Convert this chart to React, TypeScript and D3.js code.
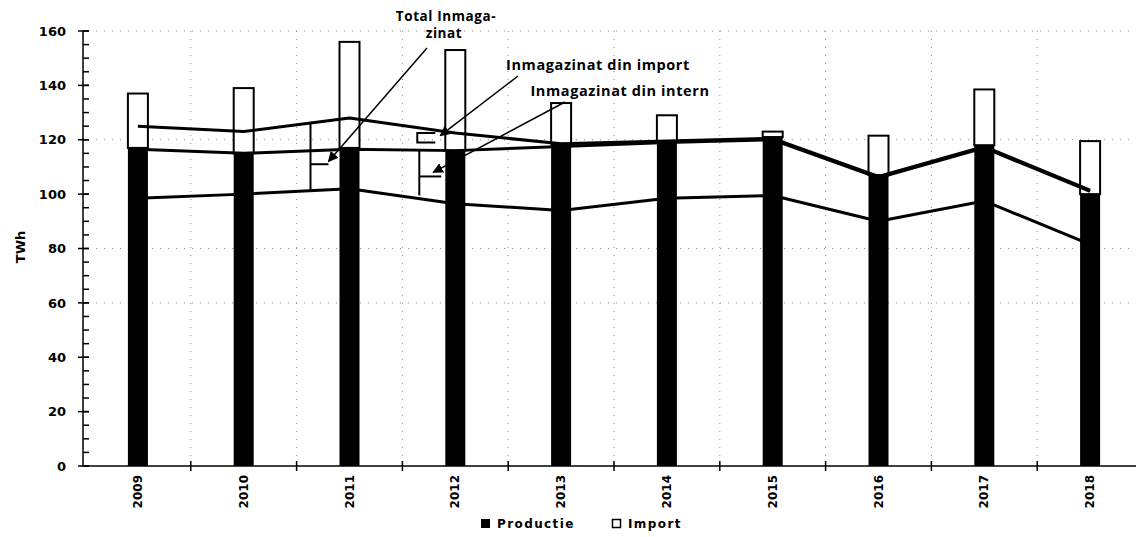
import { useEffect, useRef } from "react";
import * as d3 from "d3";

// categories and values (TWh)
const years = ["2009", "2010", "2011", "2012", "2013", "2014", "2015", "2016", "2017", "2018"];
const productie = [117, 115, 117, 116, 118.5, 119.5, 121, 107, 118, 100];
const totalBar = [137, 139, 156, 153, 133.5, 129, 123, 121.5, 138.5, 119.5];
// three annotated lines
const lineTotal = [125, 123, 128, 122.5, 118.5, 119.5, 120.5, 106.5, 117.5, 101.5];
const lineIntern = [116.5, 115, 116.5, 116, 117.5, 119, 120, 106, 117, 101];
const lineBase = [98.5, 100, 102, 96.5, 94, 98.5, 99.5, 90, 97.5, 81.5];
const yTicks = [0, 20, 40, 60, 80, 100, 120, 140, 160];
const gridValues = [160, 120, 80, 60];

const W = 1136;
const H = 537;

const App = () => {
  const ref = useRef<SVGSVGElement>(null);

  useEffect(() => {
    const svg = d3.select(ref.current);
    svg.selectAll("*").remove();

    const x = d3.scaleBand().domain(years).range([85, 1143]).padding(0);
    const y = d3.scaleLinear().domain([0, 160]).range([466, 31]);
    const cx = (yr: string) => (x(yr) as number) + x.bandwidth() / 2;
    const barW = 20;

    svg
      .append("defs")
      .append("marker")
      .attr("id", "arrow")
      .attr("viewBox", "0 0 10 10")
      .attr("refX", 9)
      .attr("refY", 5)
      .attr("markerWidth", 7)
      .attr("markerHeight", 7)
      .attr("orient", "auto")
      .append("path")
      .attr("d", "M0,0 L10,5 L0,10 z")
      .attr("fill", "#000");

    // dotted gridlines (faint, like the scan)
    const grid = svg
      .append("g")
      .attr("stroke", "#888")
      .attr("stroke-width", 1)
      .attr("stroke-dasharray", "1 7");
    grid
      .selectAll("line.h")
      .data(gridValues)
      .join("line")
      .attr("x1", 88)
      .attr("x2", W)
      .attr("y1", (d) => y(d))
      .attr("y2", (d) => y(d));
    grid
      .selectAll("line.v")
      .data(years.slice(1))
      .join("line")
      .attr("x1", (d) => x(d) as number)
      .attr("x2", (d) => x(d) as number)
      .attr("y1", y(160))
      .attr("y2", y(0));

    // import part (outlined) then production (black)
    svg
      .append("g")
      .selectAll("rect")
      .data(years)
      .join("rect")
      .attr("x", (d) => cx(d) - barW / 2)
      .attr("y", (_, i) => y(totalBar[i]))
      .attr("width", barW)
      .attr("height", (_, i) => y(productie[i]) - y(totalBar[i]))
      .attr("fill", "#fff")
      .attr("stroke", "#000")
      .attr("stroke-width", 2);

    svg
      .append("g")
      .selectAll("rect")
      .data(years)
      .join("rect")
      .attr("x", (d) => cx(d) - barW / 2)
      .attr("y", (_, i) => y(productie[i]))
      .attr("width", barW)
      .attr("height", (_, i) => y(0) - y(productie[i]))
      .attr("fill", "#000");

    const line = d3
      .line<number>()
      .x((_, i) => cx(years[i]))
      .y((d) => y(d));

    svg
      .append("g")
      .attr("fill", "none")
      .attr("stroke", "#000")
      .attr("stroke-width", 3)
      .attr("stroke-linejoin", "round")
      .selectAll("path")
      .data([lineTotal, lineIntern, lineBase])
      .join("path")
      .attr("d", (d) => line(d));

    // axes
    const yAxis = svg.append("g").attr("transform", "translate(83,0)");
    yAxis
      .append("line")
      .attr("y1", y(160))
      .attr("y2", y(0))
      .attr("stroke", "#000")
      .attr("stroke-width", 1.5);
    yAxis
      .selectAll("line.minor")
      .data(d3.range(0, 161, 5))
      .join("line")
      .attr("x1", 0)
      .attr("x2", 6)
      .attr("y1", (d) => y(d))
      .attr("y2", (d) => y(d))
      .attr("stroke", "#000")
      .attr("stroke-width", 1.5);
    yAxis
      .selectAll("line.major")
      .data(yTicks)
      .join("line")
      .attr("x1", -5)
      .attr("x2", 6)
      .attr("y1", (d) => y(d))
      .attr("y2", (d) => y(d))
      .attr("stroke", "#000")
      .attr("stroke-width", 1.5);
    yAxis
      .selectAll("text")
      .data(yTicks)
      .join("text")
      .attr("x", -17)
      .attr("y", (d) => y(d))
      .attr("dy", "0.36em")
      .attr("text-anchor", "end")
      .attr("font-family", "DejaVu Sans")
      .attr("font-weight", "bold")
      .attr("font-size", 13)
      .text((d) => d);

    svg
      .append("text")
      .attr("transform", "translate(25,247) rotate(-90)")
      .attr("text-anchor", "middle")
      .attr("font-family", "DejaVu Sans")
      .attr("font-weight", "bold")
      .attr("font-size", 13)
      .text("TWh");

    const xAxis = svg.append("g");
    xAxis
      .append("line")
      .attr("x1", 83)
      .attr("x2", W)
      .attr("y1", y(0))
      .attr("y2", y(0))
      .attr("stroke", "#000")
      .attr("stroke-width", 1.5);
    xAxis
      .selectAll("line.t")
      .data(years.slice(1))
      .join("line")
      .attr("x1", (d) => x(d) as number)
      .attr("x2", (d) => x(d) as number)
      .attr("y1", y(0) - 5)
      .attr("y2", y(0) + 5)
      .attr("stroke", "#000")
      .attr("stroke-width", 1.5);
    xAxis
      .selectAll("text")
      .data(years)
      .join("text")
      .attr("transform", (d) => `translate(${cx(d) + 4},${y(0) + 9}) rotate(-90)`)
      .attr("text-anchor", "end")
      .attr("font-family", "DejaVu Sans")
      .attr("font-weight", "bold")
      .attr("font-size", 12)
      .text((d) => d);

    // annotation brackets and arrows
    const ann = svg.append("g").attr("stroke", "#000").attr("stroke-width", 2).attr("fill", "none");
    // total: vertical span between top and base line, with a tab to the right
    const bTotalX = cx("2011") - 39;
    ann.append("path").attr("d", `M${bTotalX},${y(126)} V${y(101.5)}`);
    ann.append("path").attr("d", `M${bTotalX},${y(111)} H${bTotalX + 18}`);
    // import: small bracket opening to the right
    const bImpX = cx("2012") - 38;
    ann.append("path").attr("d", `M${bImpX + 18},${y(122.5)} H${bImpX} V${y(119)} H${bImpX + 18}`);
    // intern: vertical span with a tab
    const bIntX = cx("2012") - 36;
    ann.append("path").attr("d", `M${bIntX},${y(116.5)} V${y(99.5)}`);
    ann.append("path").attr("d", `M${bIntX},${y(106.5)} H${bIntX + 22}`);

    const arrows = [
      { from: [427, 48], to: [cx("2011") - 21, y(112)] },
      { from: [518, 76], to: [cx("2012") - 15, y(121.5)] },
      { from: [565, 102], to: [cx("2012") - 22, y(108)] },
    ];
    ann
      .selectAll("line.arrow")
      .data(arrows)
      .join("line")
      .attr("x1", (d) => d.from[0])
      .attr("y1", (d) => d.from[1])
      .attr("x2", (d) => d.to[0])
      .attr("y2", (d) => d.to[1])
      .attr("stroke-width", 1.5)
      .attr("marker-end", "url(#arrow)");

    const labels = [
      { text: "Total Inmaga-", x: 446, y: 21, size: 13.5 },
      { text: "zinat", x: 444, y: 38, size: 13.5 },
      { text: "Inmagazinat din import", x: 598, y: 70, size: 14.5 },
      { text: "Inmagazinat din intern", x: 620, y: 96, size: 14.5 },
    ];
    svg
      .append("g")
      .selectAll("text")
      .data(labels)
      .join("text")
      .attr("x", (d) => d.x)
      .attr("y", (d) => d.y)
      .attr("text-anchor", "middle")
      .attr("font-family", "Open Sans")
      .attr("font-weight", "bold")
      .attr("font-size", (d) => d.size)
      .attr("letter-spacing", 0.6)
      .text((d) => d.text);

    // legend
    const leg = svg
      .append("g")
      .attr("font-family", "DejaVu Sans")
      .attr("font-weight", "bold")
      .attr("font-size", 12)
      .attr("letter-spacing", 1.4);
    leg.append("rect").attr("x", 481).attr("y", 519).attr("width", 9).attr("height", 9).attr("fill", "#000");
    leg.append("text").attr("x", 497).attr("y", 528).text("Productie");
    leg
      .append("rect")
      .attr("x", 612.5)
      .attr("y", 519.5)
      .attr("width", 8)
      .attr("height", 8)
      .attr("fill", "#fff")
      .attr("stroke", "#000")
      .attr("stroke-width", 1.5);
    leg.append("text").attr("x", 628).attr("y", 528).text("Import");
  }, []);

  return (
    <div style={{ position: "absolute", left: 0, top: 0 }}>
      <svg ref={ref} width={W} height={H} style={{ display: "block", background: "#fff" }} />
    </div>
  );
};

export default App;
